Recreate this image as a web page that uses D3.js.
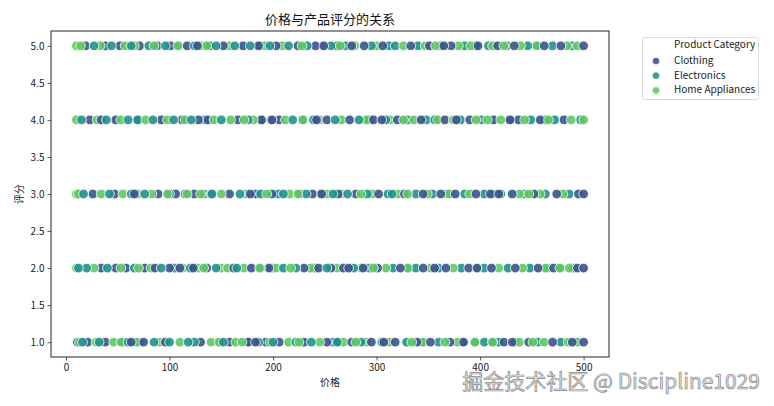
<!DOCTYPE html>
<html><head><meta charset="utf-8">
<script src="https://cdn.jsdelivr.net/npm/d3@7"></script>
<style>body{margin:0;background:#fff}svg{display:block}text{font-family:"Noto Sans CJK SC","Noto Sans",sans-serif}</style>
</head><body>
<script>
const categories = ["Clothing", "Electronics", "Home Appliances"];
const colors = ["#3b528b", "#21918c", "#5ec962"];
const ratings = [1, 2, 3, 4, 5];
const xTicks = [0, 100, 200, 300, 400, 500];
const yTicks = [1.0, 1.5, 2.0, 2.5, 3.0, 3.5, 4.0, 4.5, 5.0];

// prices per rating (index 0 -> rating 1 ... index 4 -> rating 5)
const clothingPrices = [
  [11, 21, 38, 55, 75, 96, 130, 158, 176, 193, 206, 230, 252, 263, 276, 295, 307, 318, 339, 352, 371, 384, 395, 412, 423, 447, 470, 489, 500, 63, 183, 431],
  [34, 48, 58, 76, 86, 100, 110, 136, 162, 179, 196, 230, 244, 256, 268, 287, 301, 323, 345, 356, 367, 389, 411, 434, 456, 471, 494, 500, 123, 273, 397],
  [26, 47, 89, 106, 124, 140, 158, 183, 199, 226, 238, 247, 263, 280, 302, 327, 345, 362, 376, 396, 410, 431, 452, 474, 495, 500, 66, 178, 418],
  [23, 48, 70, 92, 112, 128, 137, 166, 189, 206, 228, 252, 274, 297, 320, 343, 366, 390, 413, 437, 458, 481, 242, 305, 429, 34, 199, 377],
  [19, 38, 52, 71, 88, 101, 117, 139, 152, 171, 186, 203, 224, 241, 262, 288, 306, 333, 351, 372, 398, 417, 433, 462, 478, 500, 276, 365, 127, 249]
];
const electronicsPrices = [
  [16, 32, 60, 85, 100, 118, 124, 152, 186, 200, 222, 237, 262, 285, 305, 329, 360, 383, 404, 418, 434, 456, 478, 494, 147, 258, 71, 177, 343],
  [12, 20, 40, 66, 92, 120, 145, 165, 188, 210, 222, 252, 278, 293, 316, 338, 360, 382, 404, 427, 448, 478, 490, 199, 331, 105, 240, 465],
  [17, 42, 63, 76, 115, 141, 168, 188, 210, 232, 258, 272, 291, 315, 338, 354, 385, 404, 420, 443, 463, 486, 100, 205, 311, 133, 246, 368],
  [15, 39, 60, 84, 104, 121, 150, 176, 198, 219, 239, 260, 283, 309, 330, 356, 381, 401, 428, 449, 472, 497, 134, 348, 69, 188, 293, 463],
  [27, 44, 63, 80, 96, 124, 145, 163, 178, 197, 215, 233, 256, 270, 295, 318, 340, 362, 385, 408, 426, 446, 470, 489, 109, 312, 454, 187, 396]
];
const homePrices = [
  [13, 29, 46, 68, 90, 110, 140, 148, 164, 170, 197, 215, 245, 268, 290, 312, 345, 378, 438, 462, 485, 494, 53, 225, 334, 366, 395, 412, 280, 451],
  [10, 27, 53, 82, 113, 128, 150, 156, 172, 203, 236, 262, 285, 309, 330, 352, 374, 397, 418, 441, 463, 486, 217, 133, 70, 187, 297, 477],
  [10, 12, 34, 55, 69, 98, 130, 150, 174, 216, 252, 266, 296, 321, 349, 370, 390, 412, 438, 458, 480, 83, 194, 285, 330, 117, 224, 447],
  [10, 30, 53, 77, 98, 115, 143, 159, 181, 212, 245, 266, 290, 313, 336, 359, 374, 396, 420, 443, 466, 488, 500, 229, 172, 326, 407],
  [10, 14, 33, 57, 66, 108, 131, 158, 192, 209, 248, 279, 300, 326, 347, 379, 391, 412, 439, 455, 484, 494, 228, 265, 136, 85, 357, 423]
];
const seriesPrices = [clothingPrices, electronicsPrices, homePrices];

const W = 774, H = 406;
const m = {left: 51, right: 609, top: 31, bottom: 357};
const svg = d3.select("body").append("svg").attr("width", W).attr("height", H);

const x = d3.scaleLinear().domain([-14.5, 524.5]).range([m.left, m.right]);
const y = d3.scaleLinear().domain([0.8, 5.2]).range([m.bottom, m.top]);

// interleave the three series so the drawing order is mixed
const points = [];
ratings.forEach((r, ri) => {
  const maxLen = d3.max(seriesPrices, s => s[ri].length);
  for (let i = 0; i < maxLen; i++) {
    [1, 0, 2].forEach(ci => {
      const arr = seriesPrices[ci][ri];
      if (i < arr.length) {
        const idx = ci === 1 ? arr.length - 1 - i : i;
        points.push({price: arr[idx], rating: r, cat: ci});
      }
    });
  }
});

svg.append("g").selectAll("circle").data(points).join("circle")
  .attr("cx", d => x(d.price)).attr("cy", d => y(d.rating)).attr("r", 4.8)
  .attr("fill", d => colors[d.cat]).attr("fill-opacity", 0.9)
  .attr("stroke", "#fff").attr("stroke-width", 0.8);

// axes
const gx = svg.append("g").attr("transform", `translate(0,${m.bottom})`)
  .call(d3.axisBottom(x).tickValues(xTicks).tickSize(3.5).tickPadding(3).tickFormat(d3.format("d")));
const gy = svg.append("g").attr("transform", `translate(${m.left},0)`)
  .call(d3.axisLeft(y).tickValues(yTicks).tickSize(3.5).tickPadding(3).tickFormat(d3.format(".1f")));
[gx, gy].forEach(g => {
  g.select(".domain").remove();
  g.selectAll("line").attr("stroke", "#333").attr("stroke-width", 0.8);
  g.selectAll("text").attr("fill", "#222").style("font-size", "10px");
});
svg.append("rect").attr("x", m.left).attr("y", m.top)
  .attr("width", m.right - m.left).attr("height", m.bottom - m.top)
  .attr("fill", "none").attr("stroke", "#222").attr("stroke-width", 1);

// title & labels
svg.append("text").attr("x", (m.left + m.right) / 2).attr("y", 24).attr("text-anchor", "middle")
  .style("font-size", "13px").attr("fill", "#111").text("价格与产品评分的关系");
svg.append("text").attr("x", (m.left + m.right) / 2).attr("y", 386).attr("text-anchor", "middle")
  .style("font-size", "10px").attr("fill", "#222").text("价格");
svg.append("text").attr("transform", `translate(23,${(m.top + m.bottom) / 2}) rotate(-90)`)
  .attr("text-anchor", "middle").style("font-size", "10px").attr("fill", "#222").text("评分");

// legend
const lg = svg.append("g");
lg.append("rect").attr("x", 642.5).attr("y", 37.5).attr("width", 116).attr("height", 62)
  .attr("rx", 2).attr("fill", "#fff").attr("stroke", "#d0d0d0").attr("stroke-width", 0.8);
lg.append("text").attr("x", 674).attr("y", 48).style("font-size", "10px").attr("fill", "#222").text("Product Category");
categories.forEach((c, i) => {
  const yy = 60 + i * 14.7;
  lg.append("circle").attr("cx", 656).attr("cy", yy + 1).attr("r", 3.6)
    .attr("fill", colors[i]).attr("fill-opacity", 0.9).attr("stroke", "#fff").attr("stroke-width", 0.6);
  lg.append("text").attr("x", 674).attr("y", yy + 4).style("font-size", "10px").attr("fill", "#222").text(c);
});

// watermark
svg.append("text").attr("x", 760).attr("y", 389).attr("text-anchor", "end")
  .style("font-size", "21px").attr("fill", "#e4e4e4").attr("stroke", "#8a8a8a").attr("stroke-width", 0.7)
  .text("掘金技术社区 @ Discipline1029");
</script>
</body></html>
